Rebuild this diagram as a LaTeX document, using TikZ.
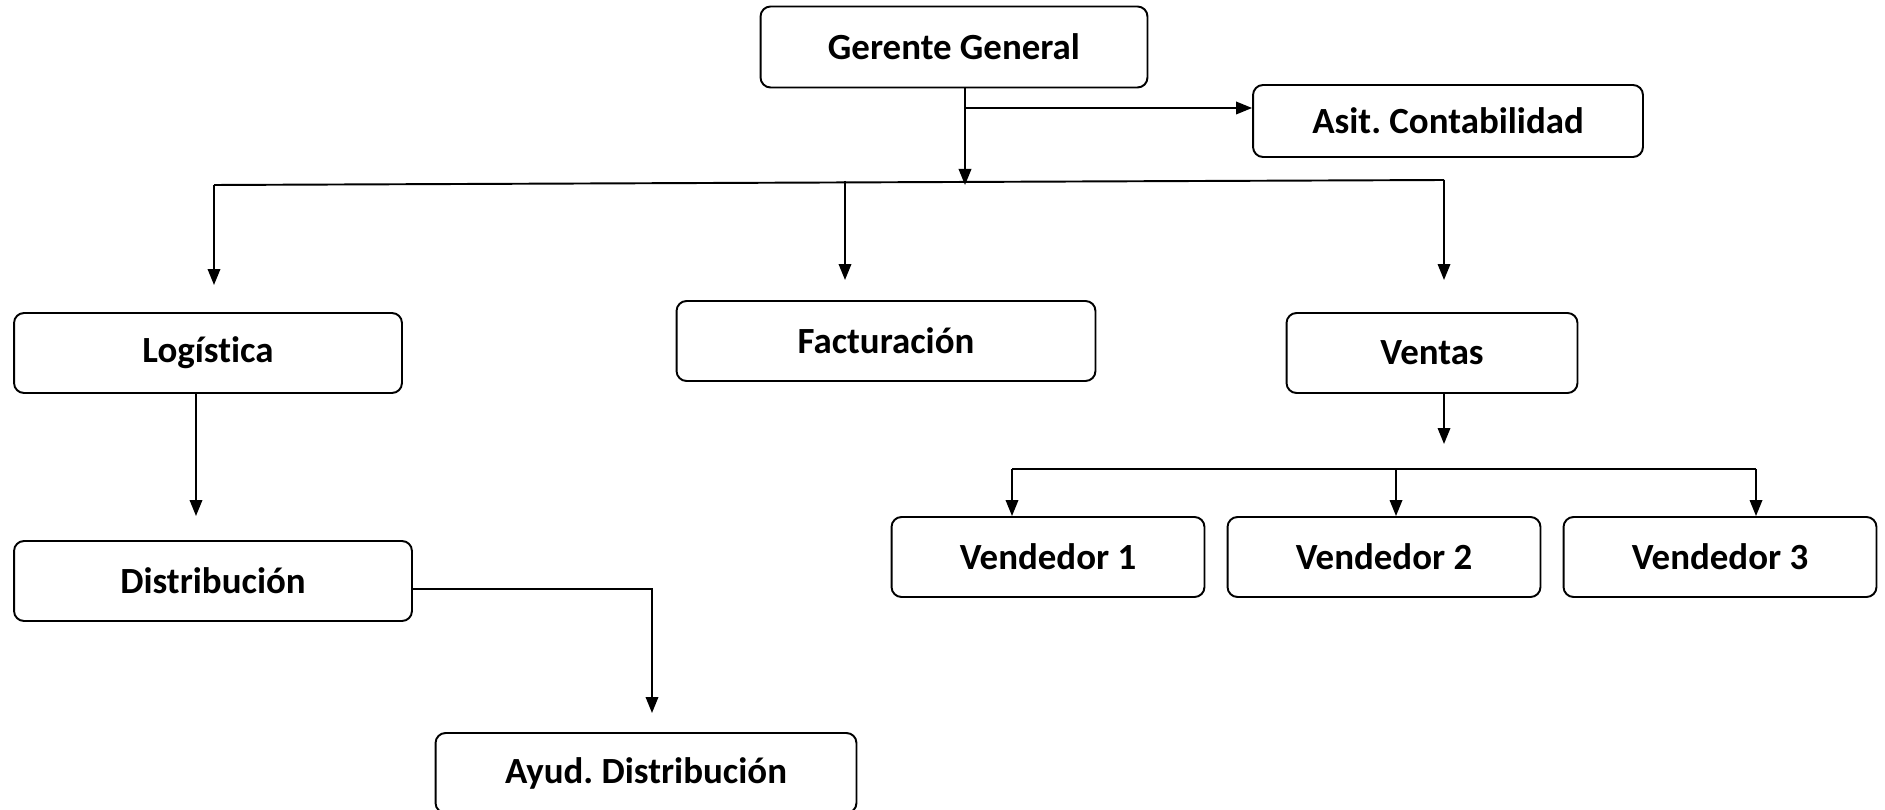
\documentclass[tikz,border=0pt]{standalone}
\usepackage{fontspec}
\setmainfont{Carlito}[Ligatures=CommonOff]
\usetikzlibrary{arrows.meta}
\frenchspacing

\tikzset{
	caja/.style={draw, line width=1.1pt, rounded corners=0.2cm, align=center, inner sep=0pt, font=\fontsize{21}{25}\selectfont\bfseries},
	flecha/.style={line width=1.1pt, -{Triangle[length=0.32cm,width=0.25cm]}},
	linea/.style={line width=1.1pt}
}

\begin{document}
\begin{tikzpicture}[x=0.02cm,y=-0.02cm]
			\useasboundingbox (0,0) rectangle (1885,810);
			\node[caja, minimum width=7.74cm, minimum height=1.62cm] (gg) at (954,47) {Gerente General};
			\node[caja, minimum width=7.8cm, minimum height=1.44cm] (asit) at (1448,121) {Asit. Contabilidad};
			\node[caja, minimum width=7.76cm, minimum height=1.6cm] (log) at (208,353) {Logística};
			\node[caja, minimum width=8.38cm, minimum height=1.6cm] (fac) at (886,341) {Facturación};
			\node[caja, minimum width=5.82cm, minimum height=1.6cm] (ven) at (1432,353) {Ventas};
			\node[caja, minimum width=6.26cm, minimum height=1.6cm] (v1) at (1048,557) {Vendedor 1};
			\node[caja, minimum width=6.26cm, minimum height=1.6cm] (v2) at (1384,557) {Vendedor 2};
			\node[caja, minimum width=6.26cm, minimum height=1.6cm] (v3) at (1720,557) {Vendedor 3};
			\node[caja, minimum width=7.96cm, minimum height=1.6cm] (dis) at (213,581) {Distribución};
			\node[caja, minimum width=8.42cm, minimum height=1.6cm] (ayu) at (646,773) {Ayud. Distribución};
			\coordinate (ga) at (965,108);
			\coordinate (gb) at (965,185);
			\coordinate (bl) at (214,185);
			\coordinate (bm) at (845,181);
			\coordinate (br) at (1444,180);
			\coordinate (la) at (214,285);
			\coordinate (fa) at (845,280);
			\coordinate (va) at (1444,280);
			\coordinate (vx) at (1444,444);
			\coordinate (vb1) at (1012,469);
			\coordinate (vb2) at (1396,469);
			\coordinate (vb3) at (1756,469);
			\coordinate (ld) at (196,516);
			\coordinate (dd) at (652,589);
			\coordinate (de) at (652,713);
			\draw[flecha] (gg.south -| gb) -- (gb);
			\draw[flecha] (ga) -- (ga -| asit.west);
			\draw[linea] (bl) -- (br);
			\draw[flecha] (bl) -- (la);
			\draw[flecha] (bm) -- (fa);
			\draw[flecha] (br) -- (va);
			\draw[flecha] (ven.south -| vx) -- (vx);
			\draw[linea] (vb1) -- (vb3);
			\draw[flecha] (vb1) -- (vb1 |- v1.north);
			\draw[flecha] (vb2) -- (vb2 |- v2.north);
			\draw[flecha] (vb3) -- (vb3 |- v3.north);
			\draw[flecha] (log.south -| ld) -- (ld);
			\draw[flecha] (dis.east |- dd) -- (dd) -- (de);
		\end{tikzpicture}
\end{document}
